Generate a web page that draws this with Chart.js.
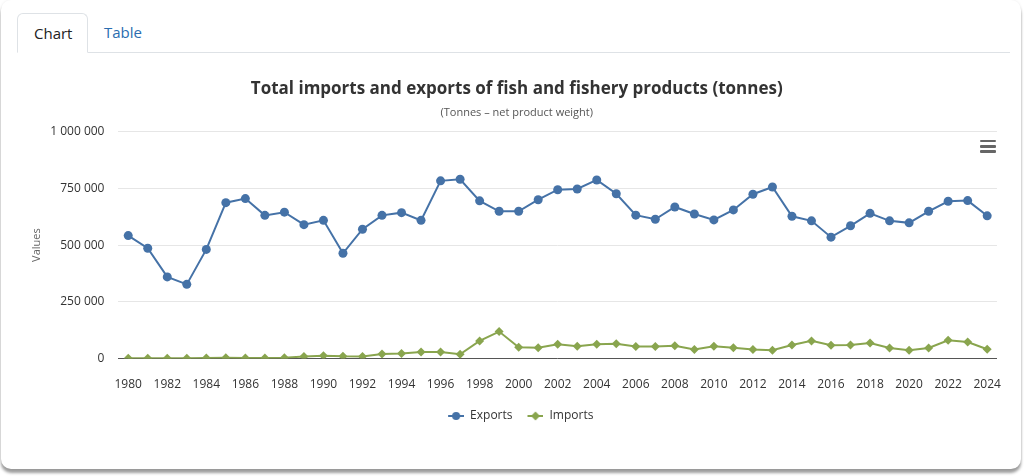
<!DOCTYPE html>
<html>
<head>
<meta charset="utf-8">
<script src="https://cdn.jsdelivr.net/npm/chart.js@4"></script>
<style>
  html, body { margin: 0; padding: 0; background: #fff; width: 1024px; height: 476px; overflow: hidden; font-family: "Open Sans", sans-serif; }
  .card { position: absolute; left: 1px; top: 0; width: 1020px; height: 469px; background: #fff; border-radius: 10px; box-shadow: 0 4px 3px rgba(0,0,0,0.38), 0 0 3px rgba(0,0,0,0.08); }
  .tabs { position: absolute; left: 16px; top: 13px; width: 993px; height: 39px; border-bottom: 1px solid #dee2e6; }
  .tab { position: absolute; top: 0; height: 38px; line-height: 38px; font-size: 15px; padding: 0 16px; box-sizing: border-box; }
  .tab.active { left: 0; width: 71px; border: 1px solid #dee2e6; border-bottom: 1px solid #fff; border-radius: 6px 6px 0 0; height: 40px; color: #222; background: #fff; }
  .tab.link { left: 71px; color: #2a6db0; }
  .wrap { position: absolute; left: 16px; top: 60px; width: 996px; height: 405px; }
  .menu { position: absolute; left: 980px; top: 140px; width: 16px; }
  .menu div { height: 2.4px; background: #666; margin-bottom: 2.8px; border-radius: 1px; }
</style>
</head>
<body>
<div class="card">
  <div class="tabs">
    <div class="tab active">Chart</div>
    <div class="tab link">Table</div>
  </div>
</div>
<div class="wrap"><canvas id="chart"></canvas></div>
<div class="menu"><div></div><div></div><div></div></div>
<script>
// years 1980-2024
const years = ["1980","1981","1982","1983","1984","1985","1986","1987","1988","1989",
  "1990","1991","1992","1993","1994","1995","1996","1997","1998","1999",
  "2000","2001","2002","2003","2004","2005","2006","2007","2008","2009",
  "2010","2011","2012","2013","2014","2015","2016","2017","2018","2019",
  "2020","2021","2022","2023","2024"];

const exportsT = [542000, 486000, 360000, 327000, 481000, 687000, 705000, 631000, 645000, 590000,
  609000, 464000, 570000, 631000, 643000, 609000, 783000, 790000, 695000, 649000,
  649000, 700000, 744000, 747000, 787000, 726000, 632000, 614000, 668000, 637000,
  611000, 655000, 724000, 756000, 627000, 607000, 535000, 585000, 640000, 607000,
  598000, 649000, 693000, 696000, 629000];

const importsT = [1000, 1500, 2000, 2000, 3000, 3500, 2500, 2500, 4000, 9000,
  13000, 10000, 9000, 20000, 22000, 29000, 29000, 19000, 78000, 119000,
  50000, 48000, 63000, 54000, 63000, 65000, 53000, 53000, 57000, 40000,
  54000, 48000, 40000, 37000, 60000, 78000, 59000, 60000, 69000, 47000,
  37000, 47000, 81000, 73000, 41000];

const yTicks = [0, 250000, 500000, 750000, 1000000];

const blue = "#4572a7";
const green = "#89a54e";

function fmt(v) {
    return String(v).replace(/\B(?=(\d{3})+(?!\d))/g, " ");
}

// legend symbol: short line with the marker on it (8px blank on the left as item spacing)
function legendIcon(color, style) {
    const c = document.createElement("canvas");
    c.width = 24; c.height = 12;
    const ctx = c.getContext("2d");
    ctx.strokeStyle = color;
    ctx.lineWidth = 2;
    ctx.beginPath(); ctx.moveTo(8, 6); ctx.lineTo(24, 6); ctx.stroke();
    ctx.fillStyle = color;
    ctx.beginPath();
    if (style === "circle") {
        ctx.arc(16, 6, 4, 0, Math.PI * 2);
    } else {
        ctx.moveTo(16, 1.5); ctx.lineTo(20.5, 6); ctx.lineTo(16, 10.5); ctx.lineTo(11.5, 6); ctx.closePath();
    }
    ctx.fill();
    return c;
}

const icons = [legendIcon(blue, "circle"), legendIcon(green, "diamond")];

function draw() {
    new Chart(document.getElementById("chart"), {
        type: "line",
        data: {
            labels: years,
            datasets: [
                {
                    label: "Exports",
                    data: exportsT,
                    borderColor: blue,
                    backgroundColor: blue,
                    borderWidth: 2,
                    pointStyle: "circle",
                    pointRadius: 4.5,
                    pointHoverRadius: 5,
                    pointBorderWidth: 0,
                    tension: 0,
                },
                {
                    label: "Imports",
                    data: importsT,
                    borderColor: green,
                    backgroundColor: green,
                    borderWidth: 2,
                    pointStyle: "rectRot",
                    pointRadius: 4.5,
                    pointHoverRadius: 5,
                    pointBorderWidth: 0,
                    tension: 0,
                },
            ],
        },
        options: {
            responsive: true,
            maintainAspectRatio: false,
            animation: false,
            layout: { padding: { left: 14, right: 8.5, top: 0, bottom: 33 } },
            plugins: {
                title: {
                    display: true,
                    text: "Total imports and exports of fish and fishery products (tonnes)",
                    color: "#333",
                    font: { family: "Open Sans", size: 17, weight: "bold" },
                    padding: { top: 19, bottom: 7 },
                },
                subtitle: {
                    display: true,
                    text: "(Tonnes \u2013 net product weight)",
                    color: "#555",
                    font: { family: "Open Sans", size: 11 },
                    padding: { top: 0, bottom: 12 },
                },
                legend: {
                    position: "bottom",
                    labels: {
                        usePointStyle: true,
                        pointStyleWidth: 24,
                        color: "#333",
                        font: { family: "Open Sans", size: 12 },
                        padding: 7,
                        generateLabels: function (ch) {
                            const items = Chart.defaults.plugins.legend.labels.generateLabels(ch);
                            items.forEach((it, i) => { it.pointStyle = icons[i]; });
                            return items;
                        },
                    },
                },
                tooltip: { enabled: false },
            },
            scales: {
                x: {
                    offset: true,
                    grid: { display: false },
                    border: { display: true, color: "#555", width: 1 },
                    ticks: {
                        autoSkip: false,
                        maxRotation: 0,
                        color: "#333",
                        padding: 11,
                        font: { family: "Open Sans", size: 12 },
                        callback: function (val, idx) {
                            return idx % 2 === 0 ? years[idx] : "";
                        },
                    },
                },
                y: {
                    min: 0,
                    max: 1000000,
                    afterBuildTicks: function (axis) {
                        axis.ticks = yTicks.map(v => ({ value: v }));
                    },
                    grid: { color: "#e6e6e6", drawTicks: false },
                    border: { display: false },
                    title: {
                        display: true,
                        text: "Values",
                        color: "#666",
                        font: { family: "Open Sans", size: 11 },
                        padding: { top: 0, bottom: -7 },
                    },
                    ticks: {
                        color: "#333",
                        padding: 14,
                        font: { family: "Open Sans", size: 12 },
                        callback: function (v) { return fmt(v); },
                    },
                },
            },
        },
    });
}

Promise.all([
    document.fonts.load('12px "Open Sans"'),
    document.fonts.load('bold 17px "Open Sans"'),
]).then(draw, draw);
</script>
</body>
</html>
